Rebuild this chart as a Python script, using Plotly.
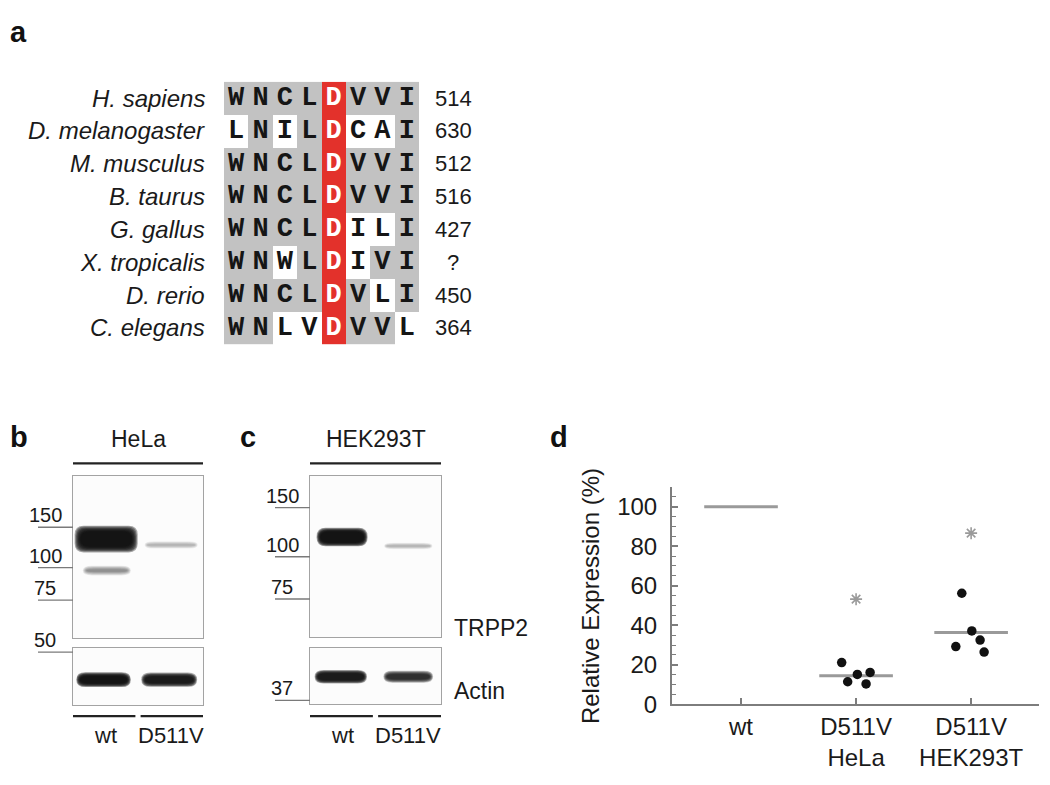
import plotly.graph_objects as go

# the page places the figure 8px from the left edge; compensate for that
OFFX, OFFY = 8, 0
W, H = 1050 - OFFX, 785 - OFFY

# ---------------- data: panel a (alignment) ----------------
species = ["H. sapiens", "D. melanogaster", "M. musculus", "B. taurus",
           "G. gallus", "X. tropicalis", "D. rerio", "C. elegans"]
sequences = ["WNCLDVVI", "LNILDCAI", "WNCLDVVI", "WNCLDVVI",
             "WNCLDILI", "WNWLDIVI", "WNCLDVLI", "WNLVDVVL"]
shading = ["####R###", ".#.#R..#", "####R###", "####R###",
           "####R..#", "##.#R.##", "####R#.#", "##..R##."]
residue_numbers = ["514", "630", "512", "516", "427", "?", "450", "364"]

# ---------------- data: panels b, c (western blots) ----------------
lane_names = ["wt", "D511V"]
# marker label, relative migration (0 top of membrane, 1 bottom)
hela_top_markers = ["150", "100", "75"]
hela_top_marker_rf = [0.315, 0.564, 0.764]
hela_bot_markers = ["50"]
hela_bot_marker_rf = [0.069]
hek_top_markers = ["150", "100", "75"]
hek_top_marker_rf = [0.195, 0.500, 0.762]
hek_bot_markers = ["37"]
hek_bot_marker_rf = [0.93]

# bands: lane position, relative migration, band width (lanes), band thickness (rf), intensity
hela_trpp2_lane = [1.01, 1.02, 2.01]
hela_trpp2_rf = [0.388, 0.582, 0.424]
hela_trpp2_width = [0.97, 0.74, 0.82]
hela_trpp2_thick = [0.165, 0.060, 0.045]
hela_trpp2_int = [1.0, 0.45, 0.30]

hela_actin_lane = [0.97, 1.98]
hela_actin_rf = [0.552, 0.552]
hela_actin_width = [0.84, 0.86]
hela_actin_thick = [0.26, 0.25]
hela_actin_int = [1.0, 0.95]

hek_trpp2_lane = [0.99, 2.0]
hek_trpp2_rf = [0.378, 0.433]
hek_trpp2_width = [0.78, 0.74]
hek_trpp2_thick = [0.115, 0.040]
hek_trpp2_int = [1.0, 0.30]

hek_actin_lane = [0.97, 2.0]
hek_actin_rf = [0.509, 0.509]
hek_actin_width = [0.80, 0.76]
hek_actin_thick = [0.24, 0.21]
hek_actin_int = [0.95, 0.85]

# ---------------- data: panel d (quantification) ----------------
groups = ["wt", "D511V<br>HeLa", "D511V<br>HEK293T"]
group_means = [100, 14.5, 36.3]
hela_values = [21.1, 11.4, 15.1, 10.3, 16.1]
hela_jitter = [-0.125, -0.073, 0.011, 0.087, 0.122]
hek_values = [56.2, 37.1, 32.5, 29.2, 26.4]
hek_jitter = [-0.081, 0.006, 0.078, -0.133, 0.113]
signif_y = [53.2, 86.6]


# ---------------- helpers ----------------
def px(x):
    return (x - OFFX) / W


def py(y):
    return 1 - (y - OFFY) / H


TXT = "#1a1a1a"
fig = go.Figure()

# ---------------- panel a ----------------
code = {".": 0, "#": 1, "R": 2}
z = [[code[c] for c in row] for row in shading]
fig.add_trace(go.Heatmap(
    z=z, x=list(range(8)), y=list(range(8)), xaxis="x", yaxis="y",
    colorscale=[[0, "#ffffff"], [0.33, "#ffffff"], [0.33, "#c2c2c2"],
                [0.67, "#c2c2c2"], [0.67, "#e3312b"], [1, "#e3312b"]],
    zmin=0, zmax=2, showscale=False, hoverinfo="skip"))

bx, by, bt, wx, wy, wt_ = [], [], [], [], [], []
for r, seq in enumerate(sequences):
    for c, ch in enumerate(seq):
        if shading[r][c] == "R":
            wx.append(c); wy.append(r); wt_.append(ch)
        else:
            bx.append(c); by.append(r); bt.append(ch)
letter_font = dict(family="Courier New, Liberation Mono, monospace", size=27, weight="bold")
fig.add_trace(go.Scatter(x=bx, y=by, text=bt, mode="text", xaxis="x", yaxis="y",
                         textfont=dict(color="#151515", **letter_font), hoverinfo="skip"))
fig.add_trace(go.Scatter(x=wx, y=wy, text=wt_, mode="text", xaxis="x", yaxis="y",
                         textfont=dict(color="#ffffff", **letter_font), hoverinfo="skip"))

annotations = []
for r, sp in enumerate(species):
    annotations.append(dict(text="<i>%s</i>" % sp, xref="paper", yref="y", x=px(207), y=r,
                            xanchor="right", yanchor="middle", showarrow=False,
                            font=dict(family="Arial, Liberation Sans", size=24, color=TXT)))
    annotations.append(dict(text=residue_numbers[r], xref="paper", yref="y", x=px(453), y=r,
                            xanchor="center", yanchor="middle", showarrow=False,
                            font=dict(family="Arial, Liberation Sans", size=22, color=TXT)))

# ---------------- panels b, c ----------------
blots = {
    # name: (axis id, x extent px, y extent px)
    "hela_top": ("2", (73, 203), (476, 641)),
    "hela_bot": ("3", (73, 203), (651, 709)),
    "hek_top": ("4", (310, 441), (476, 640)),
    "hek_bot": ("5", (310, 441), (651, 708)),
}
layout_axes = {}
for name, (k, (x0, x1), (y0, y1)) in blots.items():
    layout_axes["xaxis" + k] = dict(domain=[px(x0), px(x1)], range=[0.5, 2.5], anchor="y" + k,
                                    showline=True, mirror=True, linecolor="#a3a3a3", linewidth=1.3,
                                    showgrid=False, zeroline=False, showticklabels=False, ticks="")
    layout_axes["yaxis" + k] = dict(domain=[py(y1), py(y0)], range=[1, 0], anchor="x" + k,
                                    showline=True, mirror=True, linecolor="#a3a3a3", linewidth=1.3,
                                    showgrid=False, zeroline=False, showticklabels=False, ticks="")

shapes = []
for name, (k, (x0, x1), (y0, y1)) in blots.items():
    shapes.append(dict(type="rect", xref="x%s domain" % k, yref="y%s domain" % k,
                       x0=0, x1=1, y0=0, y1=1, fillcolor="#fcfcfc", line=dict(width=0), layer="below"))


def pill_path(xc, yc, w, h, rx, ry):
    xa, xb = xc - w / 2, xc + w / 2
    ya, yb = yc - h / 2, yc + h / 2
    return ("M %f,%f L %f,%f Q %f,%f %f,%f L %f,%f Q %f,%f %f,%f L %f,%f Q %f,%f %f,%f "
            "L %f,%f Q %f,%f %f,%f Z" % (
                xa + rx, ya, xb - rx, ya, xb, ya, xb, ya + ry, xb, yb - ry, xb, yb, xb - rx, yb,
                xa + rx, yb, xa, yb, xa, yb - ry, xa, ya + ry, xa, ya, xa + rx, ya))


def add_bands(name, lanes_, rfs, widths, thicks, ints, blur=4.0, n=8):
    k, (x0, x1), (y0, y1) = blots[name]
    lane_px = (x1 - x0) / 2.0
    rf_px = float(y1 - y0)
    for xc, rc, w, t, inten in zip(lanes_, rfs, widths, thicks, ints):
        w_px, t_px = w * lane_px, t * rf_px
        b = min(blur, t_px * 0.38)
        a = 1 - (1 - min(inten, 0.97)) ** (1.0 / n)
        for i in range(n):
            s = b * i / (n - 1)
            ww = (w_px - 2 * s) / lane_px
            hh = max(t_px - 2 * s, 0.8) / rf_px
            rx = min(9.0, (w_px - 2 * s) / 2) / lane_px
            ry = min(9.0, max(t_px - 2 * s, 0.8) / 2) / rf_px
            shapes.append(dict(type="path", xref="x" + k, yref="y" + k,
                               path=pill_path(xc, rc, ww, hh, rx, ry),
                               fillcolor="rgba(15,15,15,%.4f)" % a, line=dict(width=0)))


add_bands("hela_top", hela_trpp2_lane, hela_trpp2_rf, hela_trpp2_width, hela_trpp2_thick, hela_trpp2_int, blur=6)
add_bands("hela_bot", hela_actin_lane, hela_actin_rf, hela_actin_width, hela_actin_thick, hela_actin_int, blur=4)
add_bands("hek_top", hek_trpp2_lane, hek_trpp2_rf, hek_trpp2_width, hek_trpp2_thick, hek_trpp2_int, blur=4)
add_bands("hek_bot", hek_actin_lane, hek_actin_rf, hek_actin_width, hek_actin_thick, hek_actin_int, blur=3.5)

mw_font = dict(family="Arial, Liberation Sans", size=20, color=TXT)


def add_markers(name, labels, rfs):
    k, (x0, x1), (y0, y1) = blots[name]
    wpx = float(x1 - x0)
    for lab, rf in zip(labels, rfs):
        shapes.append(dict(type="line", xref="x%s domain" % k, yref="y" + k,
                           x0=-35 / wpx, x1=0, y0=rf, y1=rf, line=dict(color="#7a7a7a", width=1.3)))
        annotations.append(dict(text=lab, xref="x%s domain" % k, yref="y" + k,
                                x=-28 / wpx, y=rf, yshift=12, xanchor="center", yanchor="middle",
                                showarrow=False, font=mw_font))


add_markers("hela_top", hela_top_markers, hela_top_marker_rf)
add_markers("hela_bot", hela_bot_markers, hela_bot_marker_rf)
add_markers("hek_top", hek_top_markers, hek_top_marker_rf)
add_markers("hek_bot", hek_bot_markers, hek_bot_marker_rf)

lab_font = dict(family="Arial, Liberation Sans", size=23, color=TXT)
for top, bot, title in (("2", "3", "HeLa"), ("4", "5", "HEK293T")):
    shapes.append(dict(type="line", xref="x%s domain" % top, yref="paper", x0=0, x1=1,
                       y0=py(463), y1=py(463), line=dict(color="#222222", width=2.2)))
    shapes.append(dict(type="line", xref="x" + bot, yref="paper", x0=0.5, x1=1.46,
                       y0=py(720), y1=py(720), line=dict(color="#222222", width=2.2)))
    shapes.append(dict(type="line", xref="x" + bot, yref="paper", x0=1.54, x1=2.5,
                       y0=py(720), y1=py(720), line=dict(color="#222222", width=2.2)))
    annotations.append(dict(text=title, xref="x%s domain" % top, yref="paper", x=0.5, y=py(438),
                            xanchor="center", yanchor="middle", showarrow=False, font=lab_font))
    for i, ln in enumerate(lane_names):
        annotations.append(dict(text=ln, xref="x" + bot, yref="paper", x=i + 1, y=py(740),
                                xanchor="center", yanchor="middle", showarrow=False,
                                font=dict(family="Arial, Liberation Sans", size=22, color=TXT)))

annotations.append(dict(text="TRPP2", xref="paper", yref="paper", x=px(452), y=py(630),
                        xanchor="left", yanchor="middle", showarrow=False, font=lab_font))
annotations.append(dict(text="Actin", xref="paper", yref="paper", x=px(452), y=py(694),
                        xanchor="left", yanchor="middle", showarrow=False, font=lab_font))

# ---------------- panel d ----------------
mean_half = 0.32
for i, m in enumerate(group_means):
    fig.add_trace(go.Scatter(x=[i - mean_half, i + mean_half], y=[m, m], mode="lines",
                             xaxis="x6", yaxis="y6", line=dict(color="#9a9a9a", width=3),
                             hoverinfo="skip", showlegend=False))
fig.add_trace(go.Scatter(x=[1 + j for j in hela_jitter] + [2 + j for j in hek_jitter],
                         y=hela_values + hek_values, mode="markers", xaxis="x6", yaxis="y6",
                         marker=dict(color="#111111", size=9.5), hoverinfo="skip", showlegend=False))
fig.add_trace(go.Scatter(x=[1, 2], y=signif_y, mode="markers", xaxis="x6", yaxis="y6",
                         marker=dict(symbol="asterisk-open", size=10, color="#9a9a9a",
                                     line=dict(color="#9a9a9a", width=1.6)),
                         hoverinfo="skip", showlegend=False))

d_font = dict(family="Arial, Liberation Sans", size=24, color=TXT)
layout_axes["xaxis6"] = dict(domain=[px(672), px(1039)], range=[-0.6, 2.59], anchor="y6",
                             tickvals=[0, 1, 2], ticktext=groups, tickfont=d_font,
                             showline=True, linecolor="#7d7d7d", linewidth=2,
                             ticks="inside", ticklen=6, tickwidth=1.5, tickcolor="#7d7d7d",
                             showgrid=False, zeroline=False)
layout_axes["yaxis6"] = dict(domain=[py(708), py(487)], range=[0, 110], anchor="x6",
                             tickvals=[0, 20, 40, 60, 80, 100], tickfont=d_font,
                             showline=True, linecolor="#7d7d7d", linewidth=2,
                             ticks="inside", ticklen=6, tickwidth=1.5, tickcolor="#7d7d7d",
                             minor=dict(ticks="inside", ticklen=4, dtick=5, tickcolor="#7d7d7d", tickwidth=1),
                             ticklabelstandoff=8, showgrid=False, zeroline=False)
annotations.append(dict(text="Relative Expression (%)", xref="paper", yref="paper",
                        x=px(590), y=py(598), textangle=-90, xanchor="center", yanchor="middle",
                        showarrow=False, font=d_font))

# ---------------- panel letters ----------------
pl_font = dict(family="Arial, Liberation Sans", size=29, color="#111111", weight="bold")
for letter, x, ymid in (("a", 8, 24), ("b", 8, 436), ("c", 238, 436), ("d", 548, 436)):
    annotations.append(dict(text=letter, xref="paper", yref="paper", x=px(x), y=py(ymid),
                            xanchor="left", yanchor="middle", showarrow=False, font=pl_font))

fig.update_layout(
    width=W, height=H, margin=dict(l=0, r=0, t=0, b=0),
    paper_bgcolor="white", plot_bgcolor="white", showlegend=False,
    xaxis=dict(domain=[px(224), px(419)], range=[-0.5, 7.5], visible=False, anchor="y"),
    yaxis=dict(domain=[py(342), py(75)], range=[7.5, -0.5], visible=False, anchor="x"),
    shapes=shapes, annotations=annotations, **layout_axes)

fig.write_html("out.html")
